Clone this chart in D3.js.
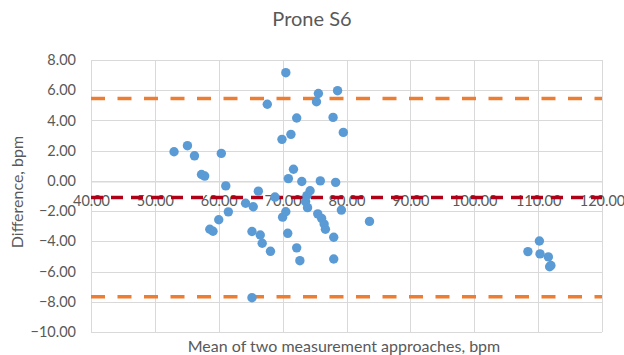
<!DOCTYPE html>
<html>
<head>
<meta charset="utf-8">
<script src="https://cdn.jsdelivr.net/npm/d3@7/dist/d3.min.js"></script>
<style>
  html, body { margin: 0; padding: 0; background: #fff; }
  svg text { font-family: Lato, "Open Sans", sans-serif; fill: #595959; }
</style>
</head>
<body>
<svg id="chart" width="624" height="355"></svg>
<script>
// Bland–Altman data: mean of the two approaches (x) and their difference (y)
const meanValues = [
  53.0, 55.1, 56.2, 57.3, 57.8, 60.4, 61.1, 61.5, 60.0, 58.6,
  59.1, 64.2, 65.4, 66.2, 65.2, 66.5, 66.8, 68.1, 65.2, 67.6,
  70.5, 69.9, 71.3, 72.2, 71.7, 70.9, 73.0, 68.8, 70.5, 70.0,
  70.8, 72.2, 72.7, 74.3, 73.8, 73.6, 73.9, 75.9, 75.6, 75.3,
  78.6, 77.9, 79.5, 78.3, 79.2, 75.5, 76.1, 76.5, 76.7, 78.0,
  78.0, 83.6, 108.4, 110.2, 110.3, 111.6, 112.0, 111.8
];
const diffValues = [
  1.93, 2.33, 1.66, 0.42, 0.32, 1.82, -0.33, -2.05, -2.57, -3.20,
  -3.33, -1.48, -1.71, -0.68, -3.35, -3.58, -4.13, -4.66, -7.73, 5.07,
  7.16, 2.75, 3.08, 4.16, 0.77, 0.15, -0.04, -1.07, -2.04, -2.40,
  -3.47, -4.43, -5.28, -0.65, -0.98, -1.38, -1.77, 0.00, 5.78, 5.24,
  5.97, 4.20, 3.21, -0.10, -1.93, -2.18, -2.48, -2.85, -3.20, -3.73,
  -5.17, -2.68, -4.68, -3.98, -4.83, -5.03, -5.60, -5.68
];

// Bias and limits of agreement
const meanDifference = -1.10;
const upperLimit = 5.46;
const lowerLimit = -7.67;

const xTicks = [40, 50, 60, 70, 80, 90, 100, 110, 120];
const yTicks = [8, 6, 4, 2, 0, -2, -4, -6, -8, -10];

const titleText = "Prone S6";
const xTitle = "Mean of two measurement approaches, bpm";
const yTitle = "Difference, bpm";

const svg = d3.select("#chart");
const plotLeft = 91, plotRight = 602, plotTop = 60, plotBottom = 332;

const x = d3.scaleLinear().domain([40, 120]).range([plotLeft, plotRight]);
const y = d3.scaleLinear().domain([-10, 8]).range([plotBottom, plotTop]);
const fmt = d3.format(".2f");

// Gridlines
const grid = svg.append("g").attr("stroke", "#d9d9d9").attr("stroke-width", 1);
grid.selectAll(".gy").data(yTicks).join("line")
  .attr("x1", plotLeft).attr("x2", plotRight)
  .attr("y1", d => Math.round(y(d)) + 0.5).attr("y2", d => Math.round(y(d)) + 0.5);
grid.selectAll(".gx").data(xTicks).join("line")
  .attr("y1", plotTop).attr("y2", plotBottom)
  .attr("x1", d => Math.round(x(d)) + 0.5).attr("x2", d => Math.round(x(d)) + 0.5);

// Y axis labels
const yAxis = svg.append("g")
  .attr("transform", `translate(${plotLeft},0)`)
  .call(d3.axisLeft(y).tickValues(yTicks).tickFormat(fmt).tickSize(0).tickPadding(15));
yAxis.select(".domain").remove();
yAxis.selectAll("text").attr("font-size", 14.5).style("font-family", "Lato, sans-serif").attr("fill", "#595959");

// X axis crossing at zero
const xAxis = svg.append("g")
  .attr("transform", `translate(0,${Math.round(y(0)) + 0.5})`)
  .call(d3.axisBottom(x).tickValues(xTicks).tickFormat(fmt).tickSize(0).tickPadding(14));
xAxis.select(".domain").attr("stroke", "#d9d9d9");
xAxis.selectAll("text").attr("font-size", 14.5).style("font-family", "Lato, sans-serif").attr("fill", "#595959");

// Limits of agreement
svg.selectAll(".loa").data([upperLimit, lowerLimit]).join("line")
  .attr("x1", plotLeft).attr("x2", plotRight)
  .attr("y1", d => y(d)).attr("y2", d => y(d))
  .attr("stroke", "#ed7d31").attr("stroke-width", 3.5)
  .attr("stroke-dasharray", "14,12.5");

// Mean difference
svg.append("line")
  .attr("x1", plotLeft).attr("x2", plotRight)
  .attr("y1", y(meanDifference)).attr("y2", y(meanDifference))
  .attr("stroke", "#b00018").attr("stroke-width", 3.5)
  .attr("stroke-dasharray", "12,8");

// Points
svg.append("g").selectAll("circle").data(meanValues).join("circle")
  .attr("cx", d => x(d))
  .attr("cy", (d, i) => y(diffValues[i]))
  .attr("r", 4.7)
  .attr("fill", "#5b9bd5");

// Titles
svg.append("text").attr("x", 312).attr("y", 26).attr("text-anchor", "middle")
  .attr("font-size", 20).text(titleText);
svg.append("text").attr("x", 344).attr("y", 352).attr("text-anchor", "middle")
  .attr("font-size", 16).text(xTitle);
svg.append("text").attr("transform", "translate(23,192) rotate(-90)")
  .attr("text-anchor", "middle").attr("font-size", 16).text(yTitle);
</script>
</body>
</html>
